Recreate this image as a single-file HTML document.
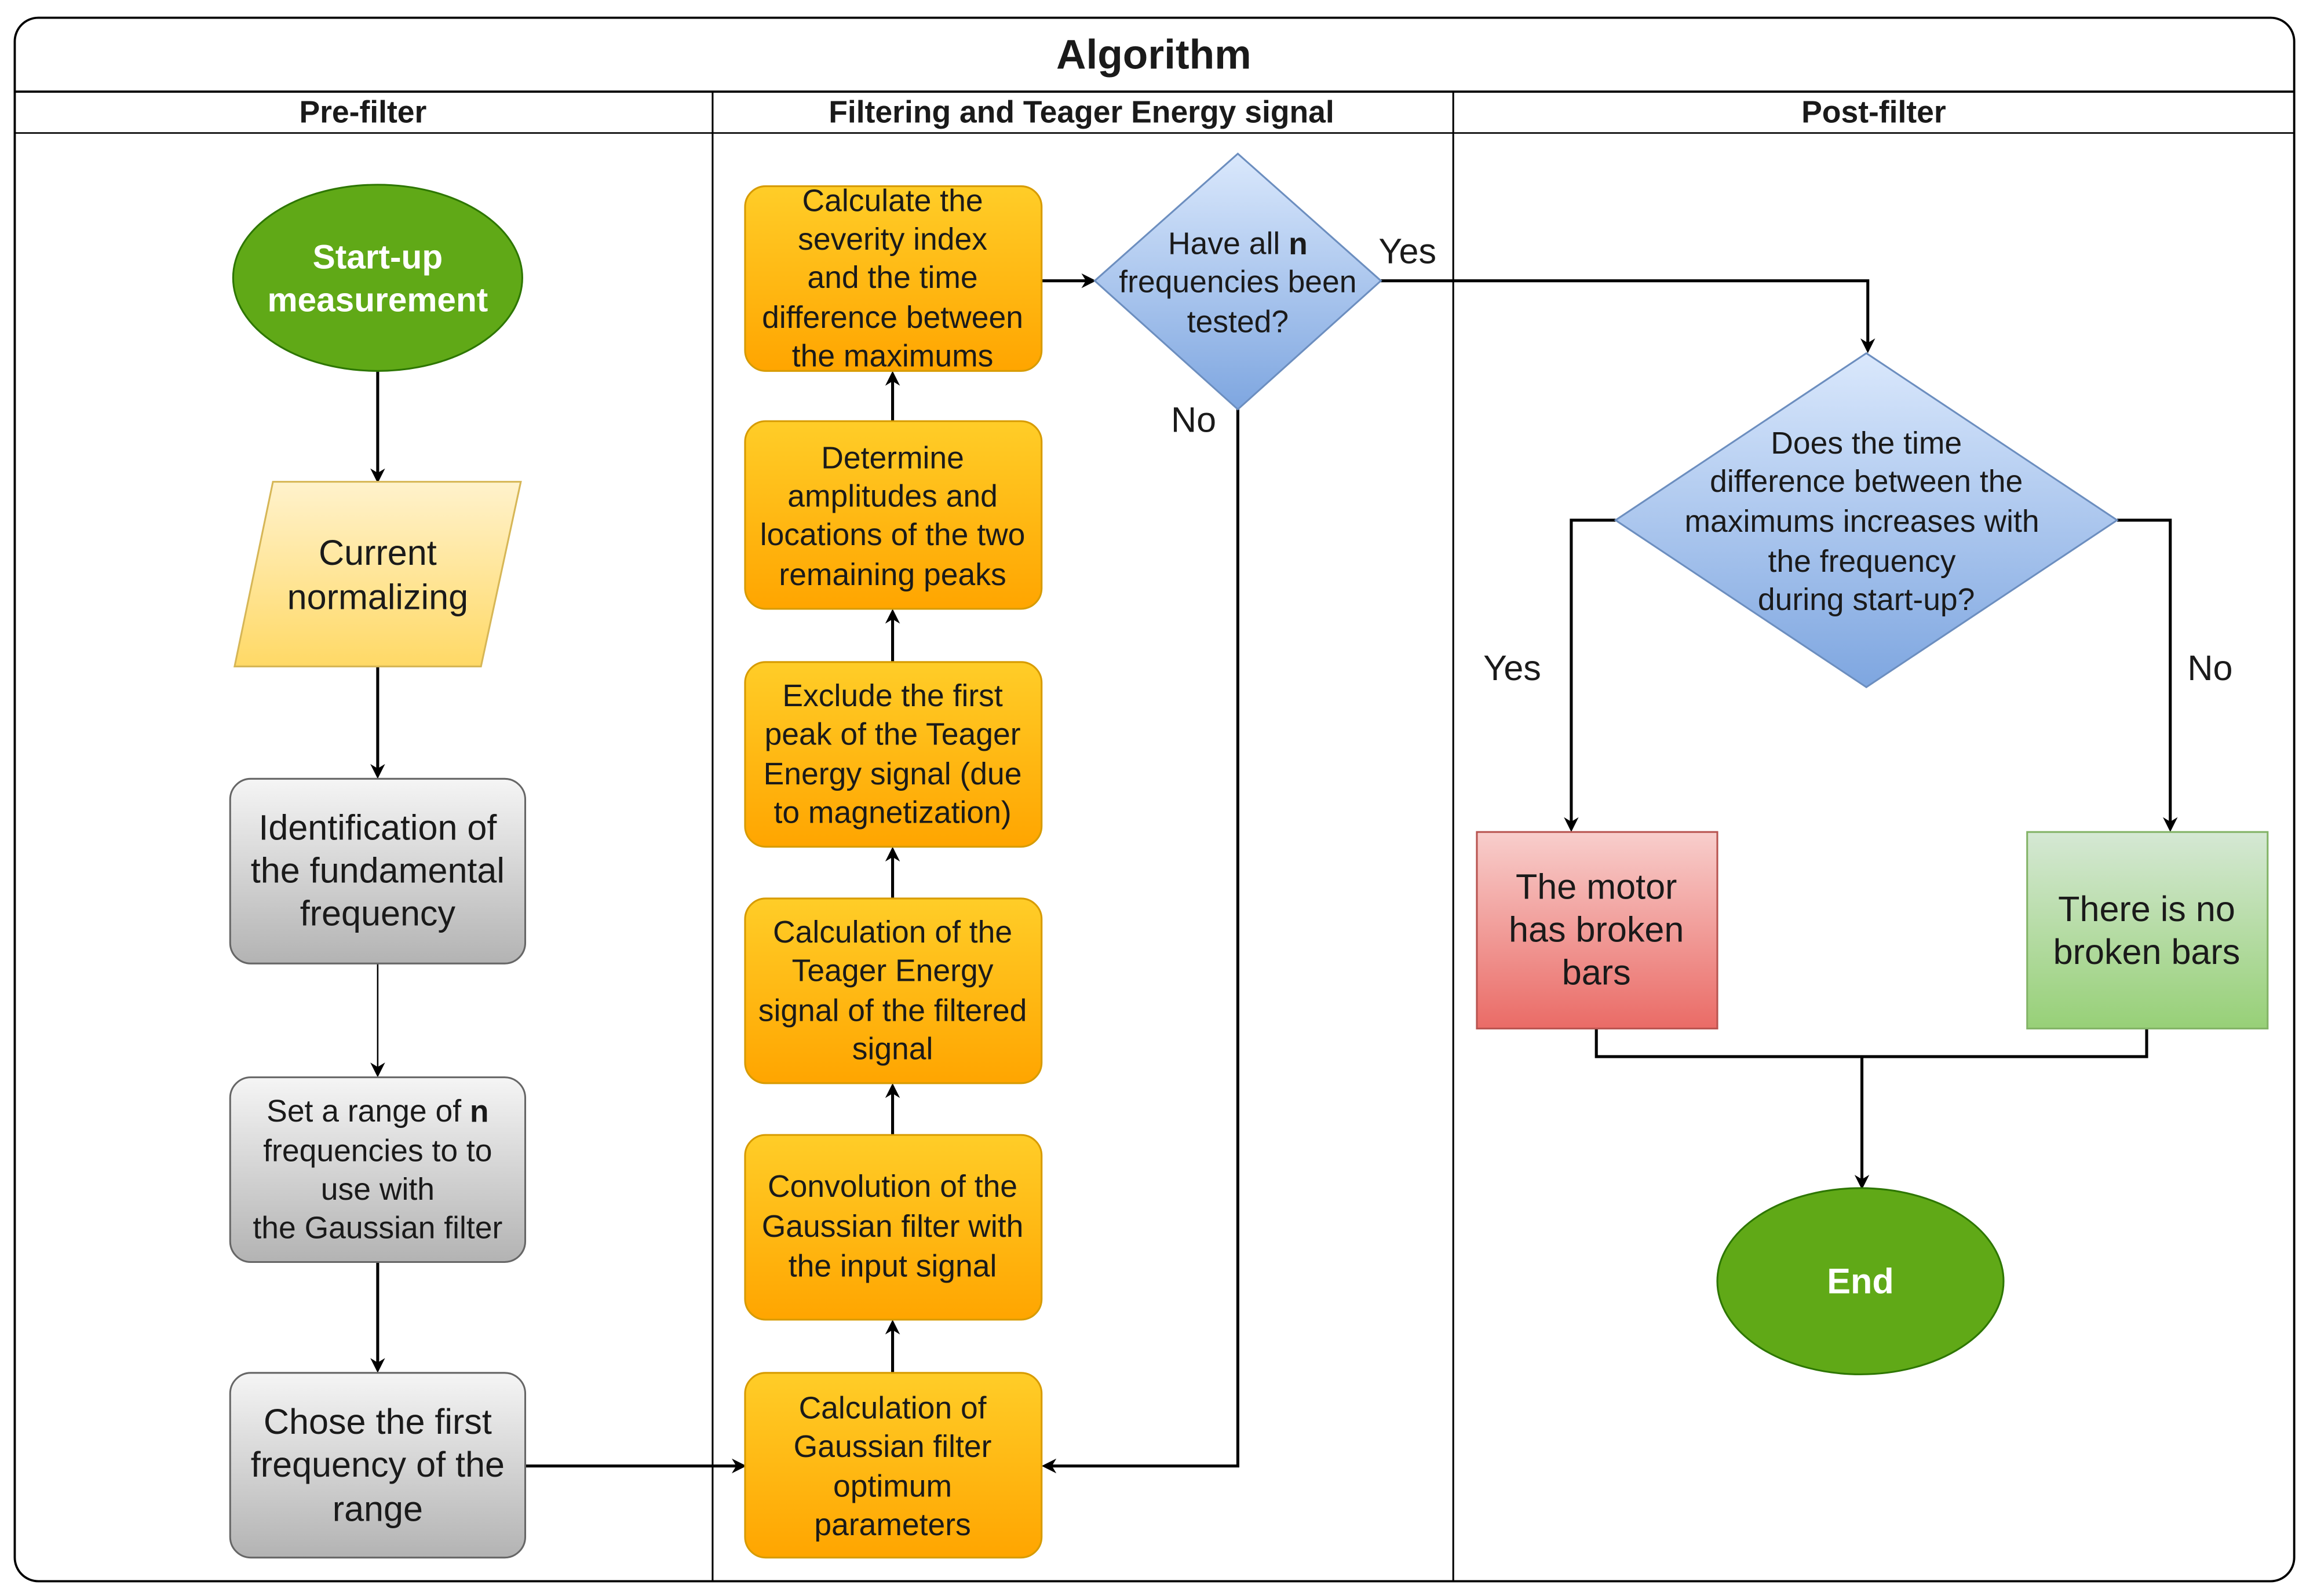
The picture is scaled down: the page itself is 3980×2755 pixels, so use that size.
<!DOCTYPE html>
<html><head><meta charset="utf-8"><style>
html,body{margin:0;padding:0;background:#fff;width:3980px;height:2755px;overflow:hidden}
svg{display:block}
text{font-family:"Liberation Sans",Arial,sans-serif;fill:#1a1a1a;text-anchor:middle;dominant-baseline:central}
</style></head><body>
<svg width="3980" height="2755" viewBox="0 0 1563 1080" preserveAspectRatio="none" xmlns="http://www.w3.org/2000/svg">
<defs>
<marker id="a" markerWidth="10" markerHeight="10" refX="8" refY="5" orient="auto" markerUnits="userSpaceOnUse"><path d="M0,0 L10,5 L0,10 L3,5 z" fill="#000"/></marker>
<linearGradient id="gy" x1="0" y1="0" x2="0" y2="1"><stop offset="0" stop-color="#fff2cc"/><stop offset="1" stop-color="#ffd966"/></linearGradient>
<linearGradient id="gg" x1="0" y1="0" x2="0" y2="1"><stop offset="0" stop-color="#f5f5f5"/><stop offset="1" stop-color="#b3b3b3"/></linearGradient>
<linearGradient id="go" x1="0" y1="0" x2="0" y2="1"><stop offset="0" stop-color="#ffcd28"/><stop offset="1" stop-color="#ffa500"/></linearGradient>
<linearGradient id="gb" x1="0" y1="0" x2="0" y2="1"><stop offset="0" stop-color="#dae8fc"/><stop offset="1" stop-color="#7ea6e0"/></linearGradient>
<linearGradient id="gr" x1="0" y1="0" x2="0" y2="1"><stop offset="0" stop-color="#f8cecc"/><stop offset="1" stop-color="#ea6b66"/></linearGradient>
<linearGradient id="gn" x1="0" y1="0" x2="0" y2="1"><stop offset="0" stop-color="#d5e8d4"/><stop offset="1" stop-color="#97d077"/></linearGradient>
</defs>
<rect x="10" y="12" width="1545" height="1058" rx="16" fill="#fff" stroke="#000" stroke-width="1.5"/>
<line x1="10" y1="62" x2="1555" y2="62" stroke="#000" stroke-width="1.5"/>
<line x1="10" y1="90" x2="1555" y2="90" stroke="#000" stroke-width="1"/>
<line x1="483" y1="62" x2="483" y2="1070" stroke="#000" stroke-width="1.2"/>
<line x1="985" y1="62" x2="985" y2="1070" stroke="#000" stroke-width="1.2"/>
<text x="782" y="37" font-size="28" font-weight="bold">Algorithm</text>
<text x="246" y="76" font-size="21" font-weight="bold">Pre-filter</text>
<text x="733" y="76" font-size="21" font-weight="bold">Filtering and Teager Energy signal</text>
<text x="1270" y="76" font-size="21" font-weight="bold">Post-filter</text>

<g stroke="#000" stroke-width="2" fill="none">
<line x1="256" y1="251" x2="256" y2="325" marker-end="url(#a)"/>
<line x1="256" y1="451" x2="256" y2="525" marker-end="url(#a)"/>
<line x1="256" y1="652" x2="256" y2="727" stroke-width="1" marker-end="url(#a)"/>
<line x1="256" y1="854" x2="256" y2="927" marker-end="url(#a)"/>
<line x1="356" y1="992" x2="504" y2="992" marker-end="url(#a)"/>
<line x1="605" y1="929" x2="605" y2="895" marker-end="url(#a)"/>
<line x1="605" y1="768" x2="605" y2="735" marker-end="url(#a)"/>
<line x1="605" y1="608" x2="605" y2="575" marker-end="url(#a)"/>
<line x1="605" y1="448" x2="605" y2="414" marker-end="url(#a)"/>
<line x1="605" y1="285" x2="605" y2="253" marker-end="url(#a)"/>
<line x1="706" y1="190" x2="741" y2="190" marker-end="url(#a)"/>
<polyline points="839,277 839,992 708,992" marker-end="url(#a)"/>
<polyline points="936,190 1266,190 1266,237" marker-end="url(#a)"/>
<polyline points="1095,352 1065,352 1065,561" marker-end="url(#a)"/>
<polyline points="1435,352 1471,352 1471,561" marker-end="url(#a)"/>
<polyline points="1082,696 1082,715 1455,715 1455,696"/>
<line x1="1262" y1="715" x2="1262" y2="803" marker-end="url(#a)"/>
</g>

<ellipse cx="256" cy="188" rx="98" ry="63" fill="#60a917" stroke="#2d7600" stroke-width="1.2"/>
<text x="256" y="174" font-size="23" font-weight="bold" style="fill:#fff">Start-up</text>
<text x="256" y="203" font-size="23" font-weight="bold" style="fill:#fff">measurement</text>

<polygon points="185,326 353,326 326,451 159,451" fill="url(#gy)" stroke="#d6b656" stroke-width="1.2"/>
<text x="256" y="374" font-size="24">Current</text>
<text x="256" y="404" font-size="24">normalizing</text>

<g stroke="#666" stroke-width="1.2">
<rect x="156" y="527" width="200" height="125" rx="14" fill="url(#gg)"/>
<rect x="156" y="729" width="200" height="125" rx="14" fill="url(#gg)"/>
<rect x="156" y="929" width="200" height="125" rx="14" fill="url(#gg)"/>
</g>
<g font-size="24">
<text x="256" y="560">Identification of</text><text x="256" y="589">the fundamental</text><text x="256" y="618">frequency</text>
<text x="256" y="962">Chose the first</text><text x="256" y="991">frequency of the</text><text x="256" y="1021">range</text>
</g>
<g font-size="21">
<text x="256" y="752">Set a range of <tspan font-weight="bold">n</tspan></text><text x="256" y="779">frequencies to to</text><text x="256" y="805">use with</text><text x="256" y="831">the Gaussian filter</text>
</g>

<g fill="url(#go)" stroke="#d79b00" stroke-width="1.2">
<rect x="505" y="126" width="201" height="125" rx="14"/>
<rect x="505" y="285" width="201" height="127" rx="14"/>
<rect x="505" y="448" width="201" height="125" rx="14"/>
<rect x="505" y="608" width="201" height="125" rx="14"/>
<rect x="505" y="768" width="201" height="125" rx="14"/>
<rect x="505" y="929" width="201" height="125" rx="14"/>
</g>
<g font-size="21">
<text x="605" y="136">Calculate the</text><text x="605" y="162">severity index</text><text x="605" y="188">and the time</text><text x="605" y="215">difference between</text><text x="605" y="241">the maximums</text>
<text x="605" y="310">Determine</text><text x="605" y="336">amplitudes and</text><text x="605" y="362">locations of the two</text><text x="605" y="389">remaining peaks</text>
<text x="605" y="471">Exclude the first</text><text x="605" y="497">peak of the Teager</text><text x="605" y="524">Energy signal (due</text><text x="605" y="550">to magnetization)</text>
<text x="605" y="631">Calculation of the</text><text x="605" y="657">Teager Energy</text><text x="605" y="684">signal of the filtered</text><text x="605" y="710">signal</text>
<text x="605" y="803">Convolution of the</text><text x="605" y="830">Gaussian filter with</text><text x="605" y="857">the input signal</text>
<text x="605" y="953">Calculation of</text><text x="605" y="979">Gaussian filter</text><text x="605" y="1006">optimum</text><text x="605" y="1032">parameters</text>
</g>

<polygon points="839,104 936,190 839,277 742,190" fill="url(#gb)" stroke="#6c8ebf" stroke-width="1.2"/>
<g font-size="21">
<text x="839" y="165">Have all <tspan font-weight="bold">n</tspan></text><text x="839" y="191">frequencies been</text><text x="839" y="218">tested?</text>
</g>
<text x="954" y="170" font-size="24">Yes</text>
<text x="809" y="284" font-size="24">No</text>

<polygon points="1265,239 1435,352 1265,465 1095,352" fill="url(#gb)" stroke="#6c8ebf" stroke-width="1.2"/>
<g font-size="21">
<text x="1265" y="300">Does the time</text><text x="1265" y="326">difference between the</text><text x="1262" y="353">maximums increases with</text><text x="1262" y="380">the frequency</text><text x="1265" y="406">during start-up?</text>
</g>
<text x="1025" y="452" font-size="24">Yes</text>
<text x="1498" y="452" font-size="24">No</text>

<rect x="1001" y="563" width="163" height="133" fill="url(#gr)" stroke="#b85450" stroke-width="1.2"/>
<rect x="1374" y="563" width="163" height="133" fill="url(#gn)" stroke="#82b366" stroke-width="1.2"/>
<g font-size="24">
<text x="1082" y="600">The motor</text><text x="1082" y="629">has broken</text><text x="1082" y="658">bars</text>
<text x="1455" y="615">There is no</text><text x="1455" y="644">broken bars</text>
</g>

<ellipse cx="1261" cy="867" rx="97" ry="63" fill="#60a917" stroke="#2d7600" stroke-width="1.2"/>
<text x="1261" y="867" font-size="24" font-weight="bold" style="fill:#fff">End</text>
</svg>
</body></html>
